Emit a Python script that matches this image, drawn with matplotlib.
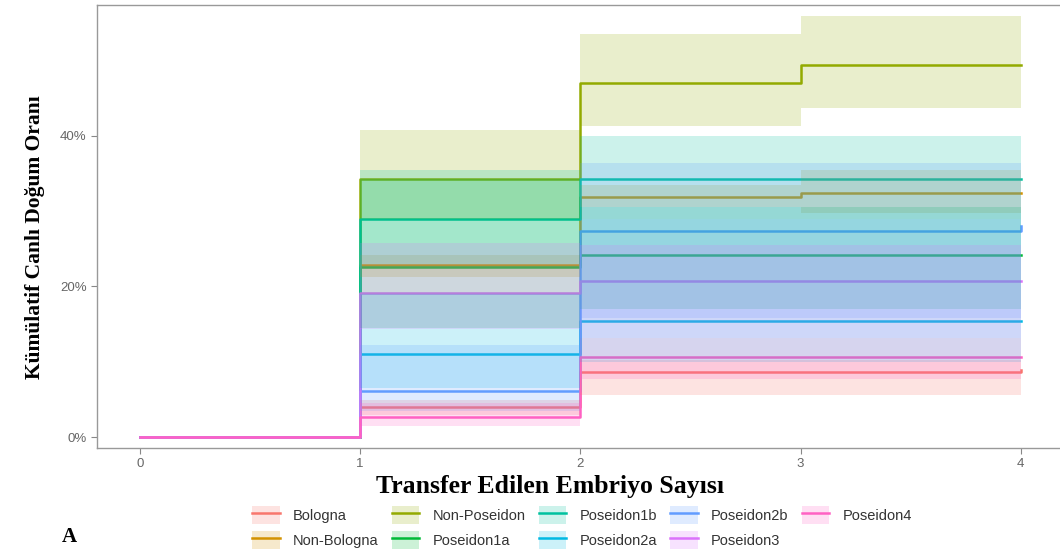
import numpy as np
import matplotlib
matplotlib.use("Agg")
import matplotlib.pyplot as plt
from matplotlib.patches import Patch
from matplotlib.lines import Line2D

# transfer counts (x axis)
transfers = [0, 1, 2, 3, 4]
band_x = [1, 2, 3, 4]

groups = ["Bologna", "Non-Bologna", "Non-Poseidon", "Poseidon1a", "Poseidon1b",
          "Poseidon2a", "Poseidon2b", "Poseidon3", "Poseidon4"]
colors = ["#F8766D", "#D39200", "#93AA00", "#00BA38", "#00C19F",
          "#00B9E3", "#619CFF", "#DB72FB", "#FF61C3"]

# cumulative live birth rate (%)
est = {
    "Bologna":      [0, 4.0, 8.6, 8.6, 8.9],
    "Non-Bologna":  [0, 22.8, 31.8, 32.4, 32.4],
    "Non-Poseidon": [0, 34.3, 47.0, 49.4, 49.4],
    "Poseidon1a":   [0, 22.6, 24.2, 24.2, 24.2],
    "Poseidon1b":   [0, 28.9, 34.2, 34.2, 34.2],
    "Poseidon2a":   [0, 11.0, 15.4, 15.4, 15.4],
    "Poseidon2b":   [0, 6.2, 27.4, 27.4, 28.0],
    "Poseidon3":    [0, 19.1, 20.7, 20.7, 20.7],
    "Poseidon4":    [0, 2.7, 10.6, 10.6, 10.6],
}
# confidence bands from transfer 1 onwards
lower = {
    "Bologna":      [3.0, 5.6, 5.6, 5.6],
    "Non-Bologna":  [21.2, 30.5, 29.7, 29.7],
    "Non-Poseidon": [29.0, 41.2, 43.6, 43.6],
    "Poseidon1a":   [14.5, 17.0, 17.0, 17.0],
    "Poseidon1b":   [23.0, 29.0, 29.0, 29.0],
    "Poseidon2a":   [6.5, 10.0, 10.0, 10.0],
    "Poseidon2b":   [3.5, 15.8, 15.8, 15.8],
    "Poseidon3":    [14.4, 13.2, 13.2, 13.2],
    "Poseidon4":    [1.5, 7.8, 7.8, 7.8],
}
upper = {
    "Bologna":      [5.0, 10.3, 10.3, 10.3],
    "Non-Bologna":  [24.2, 33.5, 35.4, 35.4],
    "Non-Poseidon": [40.7, 53.5, 55.8, 55.8],
    "Poseidon1a":   [34.3, 30.5, 30.5, 30.5],
    "Poseidon1b":   [35.4, 40.0, 40.0, 40.0],
    "Poseidon2a":   [19.0, 29.0, 29.0, 29.0],
    "Poseidon2b":   [12.2, 36.4, 36.4, 36.4],
    "Poseidon3":    [25.7, 25.5, 25.5, 25.5],
    "Poseidon4":    [4.5, 13.2, 13.2, 13.2],
}

band_alpha = 0.2

fig = plt.figure(figsize=(10.6, 5.53), dpi=100)
# right edge of the panel runs past the picture, as in the original
ax = fig.add_axes([0.0915, 0.190, 0.913, 0.801])

# step lines first, ribbons drawn over them (as in the original)
for g, c in zip(groups, colors):
    ax.step(transfers, est[g], where="post", color=c, lw=1.8, zorder=2)
for g, c in zip(groups, colors):
    ax.fill_between(band_x, lower[g], upper[g], step="post", color=c,
                    alpha=band_alpha, lw=0, zorder=3)

ax.set_xlim(-0.195, 4.2)
ax.set_ylim(-1.4, 57.3)
ax.set_xticks(transfers)
ax.set_yticks([0, 20, 40])
ax.set_yticklabels(["0%", "20%", "40%"])
ax.tick_params(colors="#888888", labelcolor="#666666", labelsize=9.5, length=4, width=0.8)
for lab in ax.get_xticklabels() + ax.get_yticklabels():
    lab.set_family("Liberation Sans")
for sp in ax.spines.values():
    sp.set_color("#999999")
    sp.set_linewidth(1.0)
ax.spines["right"].set_visible(False)

ax.set_xlabel("Transfer Edilen Embriyo Sayısı", family="Liberation Serif",
              fontweight="bold", fontsize=18.5)
ax.xaxis.set_label_coords(0.468, -0.061)
ax.set_ylabel("Kümülatif Canlı Doğum Oranı", family="Liberation Serif",
              fontweight="bold", fontsize=15.5)
ax.yaxis.set_label_coords(-0.054, 0.476)

handles = []
for c in colors:
    handles.append((Patch(facecolor=c, alpha=band_alpha, lw=0),
                    Line2D([], [], color=c, lw=1.8)))
fig.legend(handles, groups, ncol=5, loc="center", bbox_to_anchor=(0.549, 0.046),
           frameon=False, prop={"family": "Liberation Sans", "size": 10.5},
           handlelength=1.9, handleheight=1.5, columnspacing=0.9,
           labelspacing=0.5, handletextpad=0.9, labelcolor="#333333")

fig.text(0.058, 0.020, "A", family="Liberation Serif", fontweight="bold", fontsize=15)

fig.savefig("out.png", dpi=100)
